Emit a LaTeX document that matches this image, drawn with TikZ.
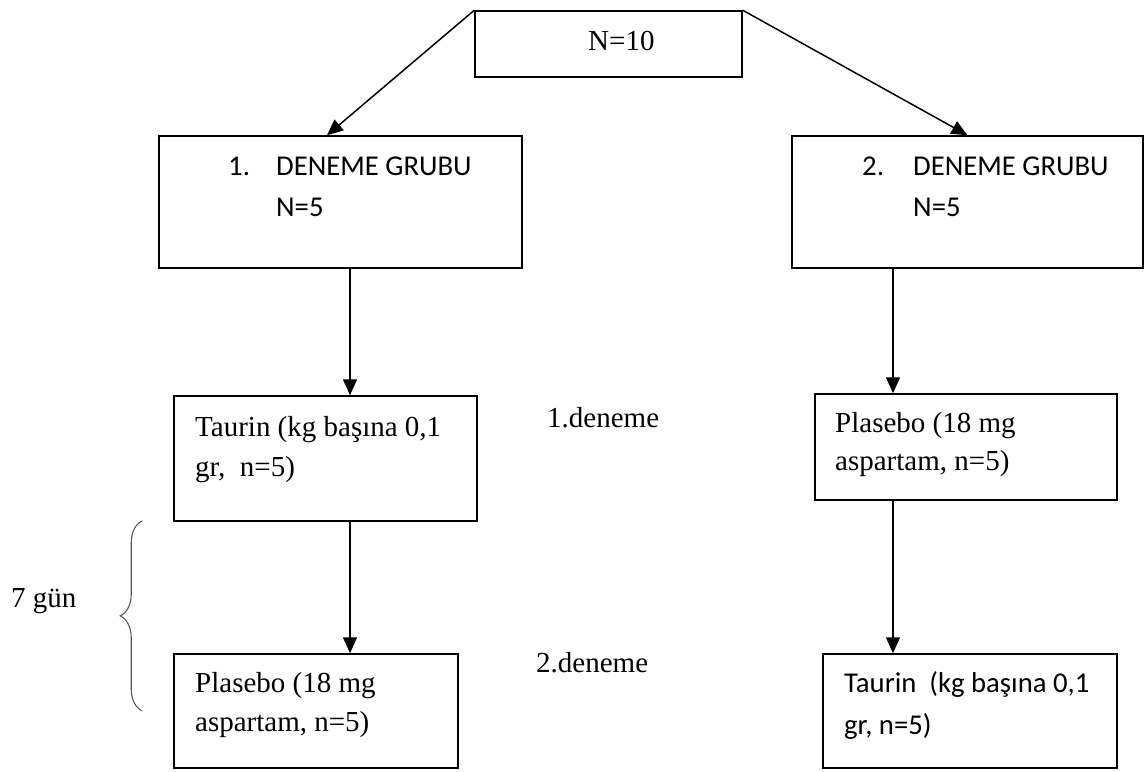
\documentclass[tikz,border=0pt]{standalone}
\usepackage{fontspec}
\setmainfont{Liberation Serif}
\newfontfamily\calib{Carlito}
\usetikzlibrary{arrows.meta,decorations.pathreplacing,calc}
\begin{document}
\begin{tikzpicture}[x=1pt,y=-1pt,
  box/.style={draw, line width=1.5pt, inner sep=0pt, rectangle},
  arr/.style={line width=1.5pt, -{Triangle[length=16pt,width=14pt]}},
  tx/.style={anchor=base west, inner sep=0pt, font=\fontsize{29}{35}\selectfont},
  sx/.style={anchor=base west, inner sep=0pt, font=\calib\fontsize{28.7}{35}\selectfont}]
\useasboundingbox (0,0) rectangle (1145,771);
% boxes
\node[box, minimum width=267pt, minimum height=66pt] (top) at (608.5,44) {};
\node[box, minimum width=363pt, minimum height=132pt] (g1) at (340.5,202) {};
\node[box, minimum width=351pt, minimum height=132pt] (g2) at (967.5,202) {};
\node[box, minimum width=303pt, minimum height=125pt] (t1) at (325.5,458.5) {};
\node[box, minimum width=302pt, minimum height=106pt] (p2) at (966,447) {};
\node[box, minimum width=284pt, minimum height=114pt] (p1) at (316,711) {};
\node[box, minimum width=294pt, minimum height=114pt] (t2) at (970,711) {};
% texts
\node[tx] (n10) at (588,50) {N=10};
\node[sx] (g1a) at (228,175) {1.};
\node[sx] (g1b) at (276,175) {DENEME GRUBU};
\node[sx] (g1c) at (276,216) {N=5};
\node[sx] (g2a) at (862,175) {2.};
\node[sx] (g2b) at (913,175) {DENEME GRUBU};
\node[sx] (g2c) at (913,216) {N=5};
\node[tx] (t1a) at (195,436) {Taurin (kg başına 0,1};
\node[tx] (t1b) at (195,476) {gr,\ \ n=5)};
\node[tx] (d1) at (547,427) {1.deneme};
\node[tx] (p2a) at (835,432) {Plasebo (18 mg};
\node[tx] (p2b) at (835,470) {aspartam, n=5)};
\node[tx] (gun) at (11,607) {7 gün};
\node[tx] (p1a) at (195,692) {Plasebo (18 mg};
\node[tx] (p1b) at (195,731) {aspartam, n=5)};
\node[tx] (d2) at (536,672) {2.deneme};
\node[sx] (t2a) at (844,692) {Taurin\ \ (kg başına 0,1};
\node[sx] (t2b) at (844,734) {gr, n=5)};
% connectors
\draw[arr] (top.north west) -- ([xshift=-13.5pt]g1.north);
\draw[arr] (top.north east) -- (g2.north);
\draw[arr] ([xshift=9.5pt]g1.south) -- ([xshift=9.5pt]g1.south |- t1.north);
\draw[arr] ([xshift=24.5pt]t1.south) -- ([xshift=24.5pt]t1.south |- p1.north);
\draw[arr] ([xshift=-74.5pt]g2.south) -- ([xshift=-74.5pt]g2.south |- p2.north);
\draw[arr] ([xshift=-73pt]p2.south) -- ([xshift=-73pt]p2.south |- t2.north);
% brace
\draw[decorate, decoration={brace, amplitude=22pt}, line width=1.1pt, black!65]
  ([xshift=-31pt]t1.south west |- p1.center) -- ([xshift=-31pt,yshift=1pt]t1.south west);
\end{tikzpicture}
\end{document}
